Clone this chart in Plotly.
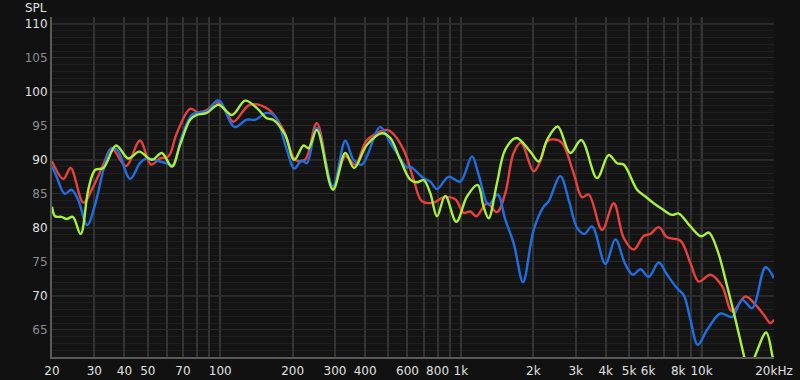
import plotly.graph_objects as go

# ---- data (frequency in Hz, level in dB SPL) ----
red_f = [20, 22.3, 23.9, 27.0, 29.7, 32.7, 35.4, 40.6, 46.4, 51.6, 56.2, 60.9, 66.0, 75.0, 80.9, 88.0, 95.3,
         100, 106.5, 113.5, 133, 159, 183, 205, 225, 252, 294, 331, 364, 407, 485, 509, 578, 636, 689, 770,
         847, 948, 1026, 1094, 1159, 1284, 1413, 1529, 1656, 1778, 2006, 2138, 2280, 2429, 2632, 2942, 3188,
         3396, 3862, 4316, 4748, 5224, 5748, 6132, 6638, 7194, 8172, 8992, 9736, 10890, 12180, 13406, 15226,
         16752, 18146, 19340, 20000]
red_db = [89.8, 87.2, 88.8, 83.7, 86.1, 89.3, 91.7, 89.1, 92.8, 89.3, 90.2, 90.5, 93.9, 97.5, 97.0, 97.3, 98.4,
          98.3, 96.9, 95.6, 98.1, 97.4, 94.4, 90.0, 90.0, 95.4, 85.8, 90.5, 89.3, 92.9, 94.4, 94.2, 91.5, 87.1, 83.9, 83.7,
          84.5, 84.2, 82.2, 82.4, 81.7, 83.6, 82.3, 85.1, 91.0, 92.5, 88.3, 89.8, 92.7, 93.0, 92.5, 88.0, 84.5,
          84.9, 79.7, 83.6, 78.5, 76.8, 78.8, 79.1, 80.1, 78.6, 78.1, 74.8, 72.1, 73.1, 71.4, 67.7, 69.9,
          68.7, 67.2, 66.0, 66.5]

blue_f = [20, 20.9, 22.6, 24.1, 25.7, 28.0, 30.2, 32.7, 34.9, 37.2, 42.2, 46.4, 49.5, 56.2, 61.9, 63.9, 69.2,
          76.2, 82.5, 88.0, 96.8, 100, 110, 115, 129, 140, 156, 169, 189, 203, 218, 229, 252, 294, 331, 358, 388,
          462, 509, 560, 597, 616, 700, 746, 796, 889, 994, 1112, 1185, 1304, 1421, 1529, 1656, 1812, 1943,
          2006, 2208, 2316, 2590, 2806, 3040, 3260, 3508, 3986, 4386, 4826, 5196, 5570, 6034, 6638, 7194,
          7918, 8432, 8992, 9644, 10550, 11982, 13406, 14750, 16232, 18440, 20000]
blue_db = [89.1, 87.5, 85.0, 85.6, 84.1, 80.4, 83.4, 88.5, 91.5, 91.5, 87.2, 89.5, 90.2, 89.75, 89.3, 89.1, 93.4,
           96.6, 97.0, 97.1, 98.7, 98.6, 95.6, 94.8, 95.9, 95.9, 96.9, 96.4, 91.5, 88.7, 89.9, 89.5, 94.7, 86.1, 92.8, 90.0, 89.3,
           94.8, 92.5, 90.2, 88.9, 89.0, 87.3, 86.8, 85.7, 87.5, 86.8, 90.5, 87.8, 83.4, 84.9, 81.2, 77.75, 72.0, 77.25,
           79.7, 83.1, 83.9, 87.6, 84.1, 80.0, 79.1, 80.2, 74.7, 78.3, 74.6, 73.1, 73.9, 72.8, 74.9, 73.1,
           71.1, 70.1, 66.5, 62.8, 65.0, 67.4, 66.9, 69.4, 68.2, 74.2, 72.6]

green_f = [20, 20.6, 21.9, 23.0, 24.4, 26.3, 28.3, 30.2, 32.7, 36.9, 41.5, 46.1, 52.0, 57.2, 62.9, 68.1, 75.0,
           79.9, 88.0, 98.3, 112, 127, 142, 156, 166, 186, 203, 222, 233, 252, 294, 331, 360, 407, 470, 509, 560,
           616, 657, 700, 746, 796, 861, 957, 1060, 1174, 1243, 1304, 1413, 1529, 1700, 1943, 2104, 2280, 2524,
           2850, 3166, 3680, 4114, 4456, 4748, 5398, 5844, 6328, 6858, 7548, 8040, 8992, 9962, 10718, 11612,
           12778, 13834, 14978, 15700, 16752, 18564, 19660, 20000]
green_db = [83.1, 81.7, 81.6, 81.3, 81.6, 79.1, 85.6, 88.5, 88.8, 92.1, 90.2, 91.2, 90.0, 91.0, 89.0, 92.2, 95.9,
            96.6, 96.9, 98.1, 96.6, 98.7, 97.6, 96.1, 95.9, 93.7, 90.0, 92.1, 91.7, 94.4, 85.6, 91.0, 88.8, 92.2, 93.9, 93.2, 90.0,
            87.1, 86.7, 87.0, 85.1, 81.7, 84.7, 80.9, 84.6, 86.3, 83.1, 81.4, 86.6, 91.5, 93.2, 91.2, 89.75, 92.9, 94.9,
            91.0, 92.9, 87.3, 90.7, 89.5, 89.3, 85.6, 84.6, 83.6, 82.75, 81.9, 82.1, 80.2, 78.75, 79.3, 76.8,
            71.4, 66.5, 61.3, 58.5, 61.3, 64.6, 61.3, 60.0]

# ---- axis ticks ----
x_grid = [20, 30, 40, 50, 60, 70, 80, 90, 100, 200, 300, 400, 500, 600, 700, 800, 900,
          1000, 2000, 3000, 4000, 5000, 6000, 7000, 8000, 9000, 10000, 20000]
x_labels = {20: "20", 30: "30", 40: "40", 50: "50", 70: "70", 100: "100", 200: "200", 300: "300",
            400: "400", 600: "600", 800: "800", 1000: "1k", 2000: "2k", 3000: "3k", 4000: "4k",
            5000: "5k", 6000: "6k", 8000: "8k", 10000: "10k", 20000: "20kHz"}
x_major = [100, 1000, 10000]
y_ticks = [65, 70, 75, 80, 85, 90, 95, 100, 105, 110]
y_major = [70, 80, 90, 100, 110]

fig = go.Figure()
for f, db, col in [(red_f, red_db, "#e8413c"), (blue_f, blue_db, "#1f6fe3"), (green_f, green_db, "#a8f03c")]:
    fig.add_trace(go.Scatter(x=f, y=db, mode="lines", line=dict(color=col, width=2.4, shape="spline", smoothing=1.0),
                             hoverinfo="skip", showlegend=False))

shapes = []
for v in y_major:
    shapes.append(dict(type="line", xref="paper", x0=0, x1=1, yref="y", y0=v, y1=v,
                       line=dict(color="#3a3a3a", width=1.5), layer="below"))
for v in x_major:
    shapes.append(dict(type="line", yref="paper", y0=0, y1=1, xref="x", x0=v, x1=v,
                       line=dict(color="#595959", width=1.5), layer="below"))

y_text = [str(v) if v % 10 == 0 else '<span style="color:#8c8c8c">%d</span>' % v for v in y_ticks]

fig.update_layout(
    width=800, height=380,
    margin=dict(l=52, r=26, t=17, b=23),
    paper_bgcolor="#111111", plot_bgcolor="#141414",
    font=dict(family="DejaVu Sans", size=12, color="#e0e0e0"),
    shapes=shapes,
    xaxis=dict(type="log", range=[1.30103, 4.30103], tickvals=x_grid,
               ticktext=[x_labels.get(v, "") for v in x_grid],
               showgrid=True, gridcolor="#333333", gridwidth=1.5,
               showline=True, linecolor="#5a5a5a", linewidth=2, ticks="", ticklen=0,
               ticklabelstandoff=2, automargin=False,
               zeroline=False, tickfont=dict(size=12, color="#e0e0e0")),
    yaxis=dict(range=[61, 111], tickvals=y_ticks, ticktext=y_text,
               showgrid=True, gridcolor="#2a2a2a", gridwidth=1, automargin=False,
               minor=dict(dtick=1, tick0=0, showgrid=True, gridcolor="#1f1f1f", gridwidth=1),
               showline=True, linecolor="#5a5a5a", linewidth=2, ticks="", ticklen=0,
               zeroline=False, tickfont=dict(size=12, color="#e0e0e0")),
    annotations=[dict(text="SPL", xref="paper", yref="paper", x=0, y=1, xshift=-3, yshift=9,
                      xanchor="right", yanchor="middle", showarrow=False,
                      font=dict(size=12, color="#e0e0e0"))],
)

fig.write_html("out.html")
